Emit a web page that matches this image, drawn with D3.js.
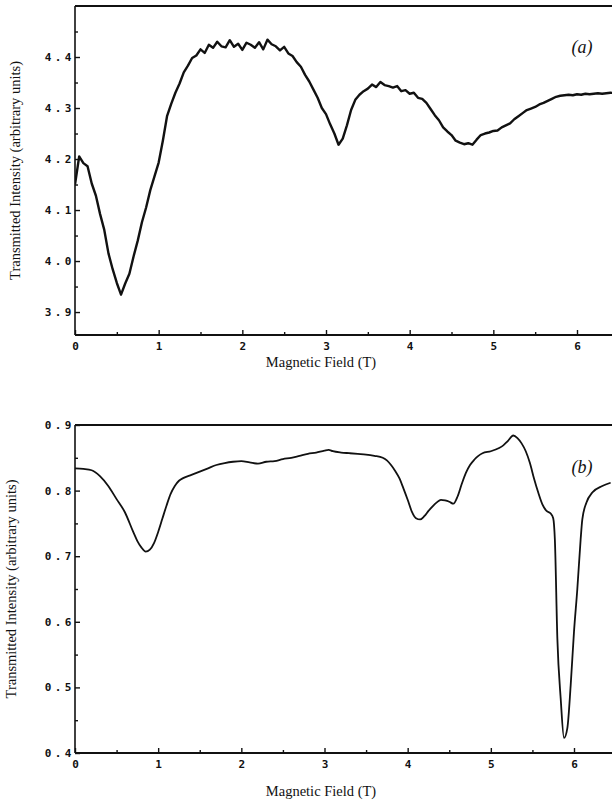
<!DOCTYPE html>
<html>
<head>
<meta charset="utf-8">
<script src="https://cdn.jsdelivr.net/npm/d3@7"></script>
<style>
  body { margin: 0; background: #fff; }
  .tick text { font-family: "DejaVu Sans Mono", monospace; font-weight: bold; font-size: 11px; letter-spacing: 3.5px; fill: #111; }
  .title { font-family: "Liberation Serif", "Times New Roman", serif; font-size: 14.5px; fill: #111; }
  .panel { font-family: "Liberation Serif", serif; font-style: italic; font-size: 18px; fill: #111; }
</style>
</head>
<body>
<svg id="chart" width="612" height="803"></svg>
<script>
// panel (a): sampled every 0.05 T from 0 to 6.45 T
const fieldStepA = 0.05
const intensityA = [
  4.150, 4.205, 4.192, 4.186, 4.152, 4.128, 4.092, 4.061, 4.015, 3.984,
  3.957, 3.934, 3.956, 3.975, 4.009, 4.040, 4.076, 4.105, 4.139, 4.166,
  4.193, 4.236, 4.284, 4.308, 4.330, 4.348, 4.370, 4.383, 4.398, 4.403,
  4.415, 4.408, 4.424, 4.418, 4.430, 4.421, 4.419, 4.433, 4.420, 4.426,
  4.414, 4.428, 4.424, 4.418, 4.429, 4.415, 4.434, 4.425, 4.421, 4.413,
  4.420, 4.407, 4.402, 4.390, 4.381, 4.365, 4.352, 4.336, 4.320, 4.300,
  4.288, 4.268, 4.250, 4.228, 4.240, 4.266, 4.296, 4.316, 4.326, 4.333,
  4.338, 4.346, 4.341, 4.351, 4.345, 4.343, 4.340, 4.343, 4.333, 4.335,
  4.328, 4.330, 4.320, 4.318, 4.310, 4.298, 4.286, 4.276, 4.262, 4.254,
  4.247, 4.236, 4.232, 4.229, 4.231, 4.228, 4.238, 4.247, 4.250, 4.252,
  4.255, 4.256, 4.262, 4.266, 4.270, 4.278, 4.284, 4.290, 4.296, 4.299,
  4.302, 4.307, 4.310, 4.314, 4.318, 4.322, 4.324, 4.325, 4.326, 4.325,
  4.327, 4.326, 4.328, 4.327, 4.328, 4.329, 4.328, 4.329, 4.330, 4.329
]

// panel (b)
const fieldB = [
  0.00, 0.10, 0.20, 0.30, 0.40, 0.50, 0.60, 0.70, 0.75, 0.80,
  0.85, 0.90, 0.95, 1.00, 1.05, 1.10, 1.15, 1.20, 1.25, 1.30,
  1.40, 1.50, 1.60, 1.70, 1.80, 1.90, 2.00, 2.10, 2.20, 2.30,
  2.40, 2.50, 2.60, 2.70, 2.80, 2.90, 3.00, 3.05, 3.10, 3.20,
  3.30, 3.40, 3.50, 3.60, 3.70, 3.75, 3.80, 3.85, 3.90, 3.95,
  4.00, 4.05, 4.10, 4.15, 4.20, 4.25, 4.30, 4.35, 4.40, 4.45,
  4.50, 4.55, 4.60, 4.65, 4.70, 4.75, 4.80, 4.85, 4.90, 5.00,
  5.10, 5.15, 5.20, 5.27, 5.32, 5.37, 5.42, 5.47, 5.52, 5.57,
  5.62, 5.67, 5.72, 5.75, 5.77, 5.80, 5.84, 5.88, 5.92, 5.96,
  6.00, 6.04, 6.08, 6.10, 6.15, 6.22, 6.34, 6.44
]
const intensityB = [
  0.834, 0.833, 0.831, 0.822, 0.807, 0.787, 0.767, 0.737, 0.723, 0.713,
  0.707, 0.710, 0.720, 0.737, 0.757, 0.777, 0.795, 0.807, 0.815, 0.819,
  0.824, 0.829, 0.834, 0.839, 0.842, 0.844, 0.845, 0.843, 0.841, 0.844,
  0.845, 0.848, 0.850, 0.853, 0.856, 0.858, 0.861, 0.862, 0.860, 0.858,
  0.857, 0.856, 0.855, 0.853, 0.850, 0.846, 0.839, 0.830, 0.819, 0.803,
  0.786, 0.768, 0.758, 0.756, 0.761, 0.769, 0.776, 0.782, 0.786, 0.785,
  0.783, 0.780, 0.791, 0.810, 0.827, 0.839, 0.847, 0.853, 0.857, 0.860,
  0.865, 0.869, 0.875, 0.884, 0.880, 0.872, 0.860, 0.842, 0.818, 0.797,
  0.779, 0.769, 0.765, 0.758, 0.725, 0.574, 0.483, 0.423, 0.438, 0.503,
  0.585, 0.650, 0.726, 0.756, 0.782, 0.797, 0.807, 0.812
]

const xTicks = [0, 1, 2, 3, 4, 5, 6]
const yTicksA = [3.9, 4.0, 4.1, 4.2, 4.3, 4.4]
const yTicksB = [0.4, 0.5, 0.6, 0.7, 0.8, 0.9]

const svg = d3.select('#chart')
const W = 612

function panel(opt) {
  const g = svg.append('g')
  const x = d3.scaleLinear().domain([0, 6]).range([opt.left, opt.x6])
  const y = d3.scaleLinear().domain(opt.yDomain).range([opt.bottom, opt.top])

  g.append('clipPath').attr('id', 'clip' + opt.name)
    .append('rect')
    .attr('x', opt.left).attr('y', opt.top)
    .attr('width', W - opt.left).attr('height', opt.bottom - opt.top)

  // minor ticks
  const xMinor = xTicks.map(d => d + 0.5).filter(d => x(d) < W)
  g.append('g')
    .attr('transform', `translate(0,${opt.bottom})`)
    .call(d3.axisBottom(x).tickValues(xMinor).tickFormat('').tickSizeInner(-3).tickSizeOuter(0))
  const yMinor = opt.yTicks.map(d => d + opt.yStep / 2).filter(d => y(d) > opt.top)
  g.append('g')
    .attr('transform', `translate(${opt.left},0)`)
    .call(d3.axisLeft(y).tickValues(yMinor).tickFormat('').tickSizeInner(-3).tickSizeOuter(0))

  // major axes
  const xAxis = g.append('g')
    .attr('transform', `translate(0,${opt.bottom})`)
    .call(d3.axisBottom(x).tickValues(xTicks).tickFormat(d3.format('d')).tickSizeInner(-5).tickSizeOuter(0).tickPadding(7))
  xAxis.selectAll('text').attr('dx', '1.7px')
  g.append('g')
    .attr('transform', `translate(${opt.left},0)`)
    .call(d3.axisLeft(y).tickValues(opt.yTicks).tickFormat(d3.format('.1f')).tickSizeInner(-5).tickSizeOuter(0).tickPadding(0))

  g.selectAll('.domain').remove()
  g.selectAll('.tick line').attr('stroke', '#111').attr('stroke-width', 1.4)

  // frame: left, bottom, top
  g.append('line').attr('x1', opt.left).attr('x2', opt.left).attr('y1', opt.top).attr('y2', opt.bottom)
    .attr('stroke', '#111').attr('stroke-width', 1.6)
  g.append('line').attr('x1', opt.left).attr('x2', W).attr('y1', opt.bottom).attr('y2', opt.bottom)
    .attr('stroke', '#111').attr('stroke-width', 2)
  g.append('line').attr('x1', opt.left).attr('x2', W).attr('y1', opt.top).attr('y2', opt.top)
    .attr('stroke', '#111').attr('stroke-width', 2)

  // data trace
  const line = d3.line()
    .x(d => x(d[0]))
    .y(d => y(d[1]))
    .curve(opt.curve)
  g.append('path')
    .datum(opt.data)
    .attr('clip-path', `url(#clip${opt.name})`)
    .attr('d', line)
    .attr('fill', 'none')
    .attr('stroke', '#111')
    .attr('stroke-width', opt.lineWidth)
    .attr('stroke-linejoin', 'round')

  // titles
  g.append('text')
    .attr('class', 'title')
    .attr('text-anchor', 'middle')
    .attr('x', 321)
    .attr('y', opt.bottom + opt.xTitleDy)
    .text('Magnetic Field (T)')
  g.append('text')
    .attr('class', 'title')
    .attr('text-anchor', 'middle')
    .attr('transform', `translate(${opt.yTitleX},${(opt.top + opt.bottom) / 2}) rotate(-90)`)
    .text('Transmitted Intensity (arbitrary units)')
  g.append('text')
    .attr('class', 'panel')
    .attr('text-anchor', 'middle')
    .attr('x', 582)
    .attr('y', opt.labelY)
    .text(opt.label)
}

panel({
  name: 'a', left: 75, x6: 577, top: 6, bottom: 335,
  yDomain: [3.855, 4.5], yTicks: yTicksA, yStep: 0.1,
  data: intensityA.map((v, i) => [i * fieldStepA, v]),
  curve: d3.curveLinear, lineWidth: 2.4,
  yTitleX: 20, xTitleDy: 32, label: '(a)', labelY: 53
})

panel({
  name: 'b', left: 75, x6: 574, top: 425, bottom: 753,
  yDomain: [0.4, 0.9], yTicks: yTicksB, yStep: 0.1,
  data: fieldB.map((f, i) => [f, intensityB[i]]),
  curve: d3.curveMonotoneX, lineWidth: 1.8,
  yTitleX: 16, xTitleDy: 43, label: '(b)', labelY: 473
})
</script>
</body>
</html>
